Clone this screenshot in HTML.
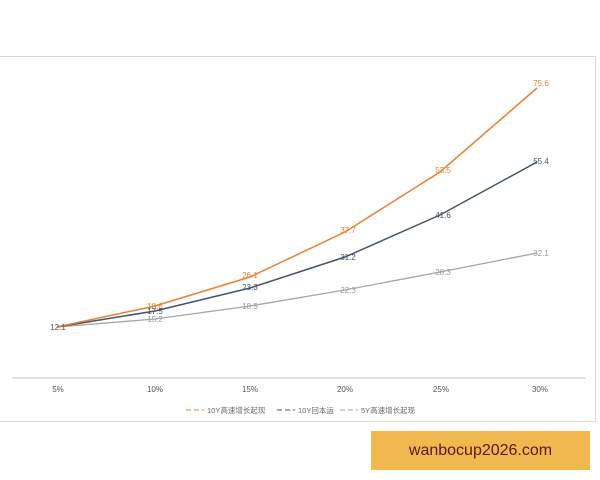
<!DOCTYPE html>
<html><head><meta charset="utf-8"><style>
body{margin:0;background:#fff;width:600px;height:480px;overflow:hidden;position:relative;font-family:"Liberation Sans","Noto Sans CJK SC",sans-serif}
.frame{position:absolute;left:0;top:56px;width:596px;height:366px;border:1px solid #d9d9d9;border-left:none;box-sizing:border-box}
.wm{position:absolute;left:371px;top:431px;width:219px;height:39px;background:#f0b84f;color:#5a1a1a;font-size:16px;line-height:39px;text-align:center}
</style></head><body>
<div class="frame"></div>
<svg width="600" height="480" style="position:absolute;left:0;top:0" font-family="Liberation Sans, Noto Sans CJK SC, sans-serif">
<line x1="12" y1="378" x2="586" y2="378" stroke="#d9d9d9" stroke-width="1.5"/>
<g font-size="8" fill="#555" text-anchor="middle">
<text x="58" y="392">5%</text><text x="155" y="392">10%</text><text x="250" y="392">15%</text>
<text x="345" y="392">20%</text><text x="441" y="392">25%</text><text x="540" y="392">30%</text>
</g>
<polyline fill="none" stroke="#a5a5a5" stroke-width="1.3" points="57,327 155,319 250,306 345,290 440,272 537,253"/>
<polyline fill="none" stroke="#44546a" stroke-width="1.5" points="57,327 155,311 250,288 345,257 440,215 537,162"/>
<polyline fill="none" stroke="#ed7d31" stroke-width="1.5" points="57,327 155,306 250,277 345,232 440,172 537,88"/>
<g font-size="8" text-anchor="middle">
<text x="58" y="330" fill="#555">12.1</text>
<text x="155" y="309" fill="#ed7d31">18.6</text><text x="155" y="314" fill="#44546a">17.5</text><text x="155" y="322" fill="#999">15.2</text>
<text x="250" y="278" fill="#ed7d31">26.1</text><text x="250" y="290" fill="#44546a">23.3</text><text x="250" y="309" fill="#999">18.5</text>
<text x="348" y="233" fill="#ed7d31">37.7</text><text x="348" y="260" fill="#44546a">31.2</text><text x="348" y="293" fill="#999">22.3</text>
<text x="443" y="173" fill="#ed7d31">53.5</text><text x="443" y="218" fill="#44546a">41.6</text><text x="443" y="275" fill="#999">28.3</text>
<text x="541" y="86" fill="#ed7d31">75.6</text><text x="541" y="164" fill="#44546a">55.4</text><text x="541" y="256" fill="#999">32.1</text>
</g>
<g font-size="7.5" fill="#666">
<line x1="186" y1="410" x2="204" y2="410" stroke="#ed7d31" stroke-dasharray="5,3"/><text x="207" y="413">10Y高速增长起现</text>
<line x1="277" y1="410" x2="295" y2="410" stroke="#44546a" stroke-dasharray="5,3"/><text x="298" y="413">10Y回本运</text>
<line x1="340" y1="410" x2="358" y2="410" stroke="#a5a5a5" stroke-dasharray="5,3"/><text x="361" y="413">5Y高速增长起现</text>
</g>
</svg>
<div class="wm">wanbocup2026.com</div>
</body></html>
